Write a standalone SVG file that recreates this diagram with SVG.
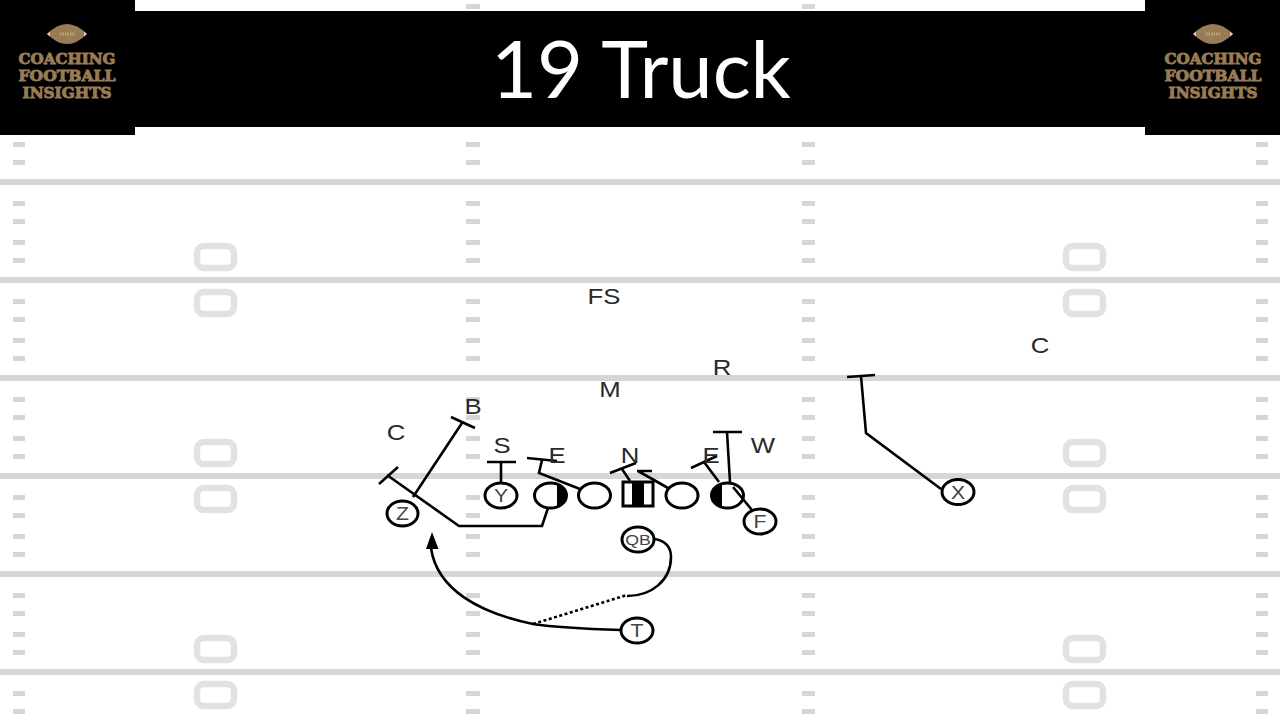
<svg xmlns="http://www.w3.org/2000/svg" xmlns:xlink="http://www.w3.org/1999/xlink" width="1280" height="720" viewBox="0 0 1280 720">
<style>
.fl{fill:#d6d6d6}
.h{fill:#d6d6d6}
.num{fill:none;stroke:#e2e2e2;stroke-width:6.5}
.p{fill:#fff;stroke:#000;stroke-width:3}
.c{fill:none;stroke:#000;stroke-width:2.6;stroke-linejoin:miter}
.t{font-family:"Liberation Sans",Arial,sans-serif;font-size:22px;fill:#2a2a2a;text-anchor:middle}
.pt{font-family:"Liberation Sans",Arial,sans-serif;font-size:18px;fill:#444;text-anchor:middle}
.logo{font-family:"DejaVu Serif",serif;font-weight:700;font-size:15px;fill:#9a7c54;text-anchor:middle;stroke:#9a7c54;stroke-width:.9}
.title{font-family:"Lato","Open Sans",sans-serif;font-size:79.500px;fill:#fff;text-anchor:middle}
</style>
<defs>
<g id="hashes">
<rect x="13" y="0" width="12" height="5"/><rect x="466" y="0" width="14" height="5"/><rect x="802" y="0" width="13" height="5"/><rect x="1256" y="0" width="12" height="5"/>
</g>
<g id="hset" class="h">
<use xlink:href="#hashes" y="19"/><use xlink:href="#hashes" y="37"/><use xlink:href="#hashes" y="58"/><use xlink:href="#hashes" y="76"/>
</g>
<g id="nums">
<rect class="num" x="197" y="246" width="37" height="22" rx="7"/>
<rect class="num" x="197" y="292" width="37" height="22" rx="7"/>
<rect class="num" x="1066" y="246" width="37" height="22" rx="7"/>
<rect class="num" x="1066" y="292" width="37" height="22" rx="7"/>
</g>
<g id="ball">
<path d="M47 34 Q67 14 87 34 Q67 54 47 34Z" fill="#9a7c54"/>
<path d="M47 34 L50 31.500 L50 36.500Z M87 34 L84 31.500 L84 36.500Z" fill="#d9cdb8"/>
<path d="M60 34H74" stroke="#b9a484" stroke-width="3" stroke-dasharray="1.500 1"/>
</g>
</defs>
<rect width="1280" height="720" fill="#fff"/>
<g id="field">
<rect class="fl" x="0" y="179" width="1280" height="6"/>
<rect class="fl" x="0" y="277" width="1280" height="6"/>
<rect class="fl" x="0" y="375" width="1280" height="6"/>
<rect class="fl" x="0" y="473" width="1280" height="6"/>
<rect class="fl" x="0" y="571" width="1280" height="6"/>
<rect class="fl" x="0" y="669" width="1280" height="6"/>
<use xlink:href="#hashes" class="h" y="4"/>
<use xlink:href="#hset" y="84"/><use xlink:href="#hset" y="182"/><use xlink:href="#hset" y="280"/><use xlink:href="#hset" y="378"/><use xlink:href="#hset" y="476"/><use xlink:href="#hset" y="574"/>
<use xlink:href="#hashes" class="h" y="691"/><use xlink:href="#hashes" class="h" y="709"/>
<use xlink:href="#nums"/><use xlink:href="#nums" y="196"/><use xlink:href="#nums" y="392"/>
</g>
<g id="banner">
<rect x="135" y="11" width="1010" height="116" fill="#000"/>
<text class="title" x="641" y="98">19 Truck</text>
</g>
<g id="logo-left">
<rect x="0" y="0" width="135" height="135" fill="#000"/>
<use xlink:href="#ball"/>
<text class="logo" x="67" y="64" textLength="97" lengthAdjust="spacingAndGlyphs">COACHING</text>
<text class="logo" x="67" y="81" textLength="97" lengthAdjust="spacingAndGlyphs">FOOTBALL</text>
<text class="logo" x="67" y="98" textLength="89" lengthAdjust="spacingAndGlyphs">INSIGHTS</text>
</g>
<g id="logo-right">
<rect x="1145" y="0" width="135" height="135" fill="#000"/>
<use xlink:href="#ball" x="1146"/>
<text class="logo" x="1213" y="64" textLength="97" lengthAdjust="spacingAndGlyphs">COACHING</text>
<text class="logo" x="1213" y="81" textLength="97" lengthAdjust="spacingAndGlyphs">FOOTBALL</text>
<text class="logo" x="1213" y="98" textLength="89" lengthAdjust="spacingAndGlyphs">INSIGHTS</text>
</g>
<g id="connectors">
<path class="c" d="M413 497L462 423M451 417L475 428"/>
<path class="c" d="M379 484L398 467M387 475L459 526H542L548 508"/>
<path class="c" d="M501 483V462M487 462H516"/>
<path class="c" d="M527 458L557 461M542 460L539 473L580 489"/>
<path class="c" d="M610 473L636 463M622 469L630 481M637 471H652M638 471L668 488"/>
<path class="c" d="M691 468L717 456M704 462L719 482"/>
<path class="c" d="M713 432H742M727 432L730 482"/>
<path class="c" d="M847 377L875 375M861 376L866 433L941 489"/>
<path class="c" d="M654 539C665 540 671 547 671 557C671 580 652 596 627 596"/>
<path class="c" d="M533 624L627 595" stroke-dasharray="3 2.500"/>
<path class="c" d="M621 630C590 629 560 628 533 624C480 613 437 590 431 548"/>
<path d="M432 532L426 549L438.500 549Z" fill="#000"/>
</g>
<g id="node-Z"><ellipse class="p" cx="402.500" cy="513.500" rx="15.500" ry="12.500"/><text class="pt" transform="translate(402.500 520) scale(1.18 1)">Z</text></g>
<g id="node-Y"><ellipse class="p" cx="501" cy="495.500" rx="16" ry="12.500"/><text class="pt" transform="translate(501 502) scale(1.18 1)">Y</text></g>
<g id="node-LT"><ellipse class="p" cx="550.500" cy="495.500" rx="16" ry="12.500"/><path d="M557 484.100A16 12.500 0 0 1 557 506.900Z" fill="#000"/></g>
<g id="node-LG"><ellipse class="p" cx="594.500" cy="495.500" rx="16" ry="12.500"/></g>
<g id="node-OC"><rect class="p" x="623" y="482" width="30" height="24"/><rect x="632" y="482" width="12" height="24" fill="#000"/></g>
<g id="node-RG"><ellipse class="p" cx="682" cy="495.500" rx="16" ry="12.500"/></g>
<g id="node-RT"><ellipse class="p" cx="727.500" cy="495.500" rx="16" ry="12.500"/><path d="M722 483.800A16 12.500 0 0 0 722 507.200Z" fill="#000"/></g>
<path id="link-RT-F" class="c" d="M733 487L752 510"/>
<g id="node-F"><ellipse class="p" cx="760" cy="521.500" rx="16" ry="12.500"/><text class="pt" transform="translate(760 528) scale(1.18 1)">F</text></g>
<g id="node-X"><ellipse class="p" cx="958" cy="492" rx="16" ry="12.500"/><text class="pt" transform="translate(958 498.500) scale(1.18 1)">X</text></g>
<g id="node-QB"><ellipse class="p" cx="638" cy="539.500" rx="16" ry="12.500"/><text class="pt" transform="translate(638 545) scale(1.18 1)" style="font-size:15px">QB</text></g>
<g id="node-T"><ellipse class="p" cx="637" cy="630.500" rx="16" ry="12.500"/><text class="pt" transform="translate(637 637) scale(1.18 1)">T</text></g>
<g id="defense">
<text class="t" transform="translate(604 304) scale(1.17 1)">FS</text>
<text class="t" transform="translate(722 375) scale(1.17 1)">R</text>
<text class="t" transform="translate(610 397) scale(1.17 1)">M</text>
<text class="t" transform="translate(1040 353) scale(1.17 1)">C</text>
<text class="t" transform="translate(473 414) scale(1.17 1)">B</text>
<text class="t" transform="translate(396 440) scale(1.17 1)">C</text>
<text class="t" transform="translate(502 453) scale(1.17 1)">S</text>
<text class="t" transform="translate(557 463) scale(1.17 1)">E</text>
<text class="t" transform="translate(630 463) scale(1.17 1)">N</text>
<text class="t" transform="translate(711 463) scale(1.17 1)">E</text>
<text class="t" transform="translate(763 453) scale(1.17 1)">W</text>
</g>
</svg>
